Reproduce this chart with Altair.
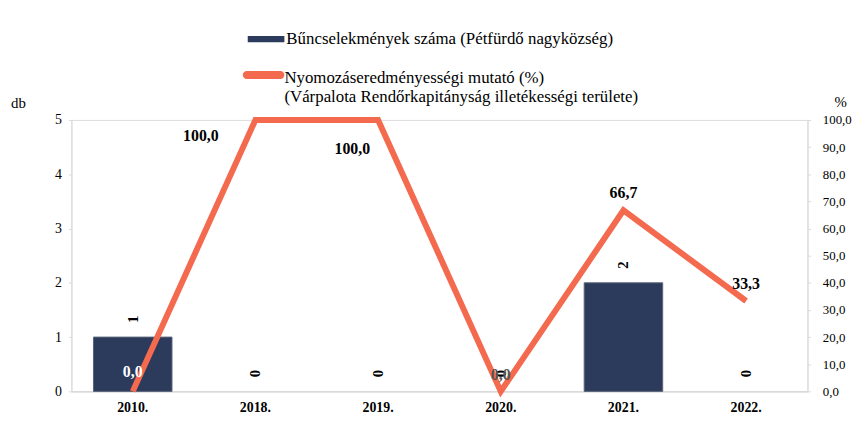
import altair as alt
import pandas as pd

years = ["2010.", "2018.", "2019.", "2020.", "2021.", "2022."]
crimes = [1, 0, 0, 0, 2, 0]
rate = [0.0, 100.0, 100.0, 0.0, 66.7, 33.3]
bar_name = "Bűncselekmények száma (Pétfürdő nagyközség)"
line_name = "Nyomozáseredményességi mutató (%)|(Várpalota Rendőrkapitányság illetékességi területe)"
left_ticks = [0, 1, 2, 3, 4, 5]
right_ticks = [0, 10, 20, 30, 40, 50, 60, 70, 80, 90, 100]

FONT = "Liberation Serif"
BAR_COLOR = "#2c3a5c"
LINE_COLOR = "#f46a4e"

df = pd.DataFrame({
    "year": years,
    "crimes": crimes,
    "rate": rate,
    "bar_series": bar_name,
    "line_series": line_name,
})

x_enc = alt.X(
    "year:N", sort=years,
    scale=alt.Scale(paddingInner=0.36, paddingOuter=0.18),
    axis=alt.Axis(title=None, labelAngle=0, labelFont=FONT, labelFontWeight="bold",
                  labelFontSize=14, labelColor="#000", domainColor="#d0d0d0",
                  ticks=False, labelPadding=9),
)

left_axis = alt.Axis(values=left_ticks, format="d", title="db", titleAngle=0,
                     titleX=-54, titleY=-18, titleAlign="center", titleBaseline="middle",
                     titleFont=FONT, titleFontSize=15, titleFontWeight="normal", titleColor="#000",
                     labelFont=FONT, labelFontSize=14, labelColor="#000",
                     domainColor="#d9d9d9", tickColor="#d9d9d9", tickSize=3,
                     labelPadding=7, grid=False)
left_scale = alt.Scale(domain=[0, 5], nice=False)

right_axis = alt.Axis(orient="right", values=right_ticks, labelOverlap=False,
                      labelExpr="replace(format(datum.value, '.1f'), '.', ',')",
                      title="%", titleAngle=0, titleX=33, titleY=-19,
                      titleAlign="center", titleBaseline="middle",
                      titleFont=FONT, titleFontSize=15, titleFontWeight="normal", titleColor="#000",
                      labelFont=FONT, labelFontSize=13, labelColor="#000",
                      domainColor="#d9d9d9", tickColor="#d9d9d9", tickSize=3,
                      labelPadding=12, grid=False)
right_scale = alt.Scale(domain=[0, 100], nice=False)

base = alt.Chart(df)

bars = base.mark_bar(stroke="#5a6478").encode(
    x=x_enc,
    y=alt.Y("crimes:Q", scale=left_scale, axis=left_axis),
    strokeWidth=alt.condition("datum.crimes > 0", alt.value(1), alt.value(0)),
    fill=alt.Fill("bar_series:N", scale=alt.Scale(domain=[bar_name], range=[BAR_COLOR]),
                  legend=alt.Legend(orient="none", legendX=178, legendY=-100, title=None,
                                    symbolType="M-1,-0.17L1,-0.17L1,0.17L-1,0.17Z",
                                    symbolSize=1369, symbolStrokeWidth=0, labelFont=FONT,
                                    labelFontSize=17, labelColor="#000", labelOffset=2,
                                    labelLimit=600)),
)

bar_text = base.mark_text(angle=270, dx=18, font=FONT, fontSize=15, fontWeight="bold",
                          color="#000").encode(
    x=alt.X("year:N", sort=years),
    y=alt.Y("crimes:Q", scale=left_scale, axis=left_axis),
    text=alt.Text("crimes:Q", format="d"),
)

left = alt.layer(bars, bar_text)

line = base.mark_line(strokeWidth=6).encode(
    x=alt.X("year:N", sort=years),
    y=alt.Y("rate:Q", scale=right_scale, axis=right_axis),
    stroke=alt.Stroke("line_series:N", scale=alt.Scale(domain=[line_name], range=[LINE_COLOR]),
                      legend=alt.Legend(orient="none", legendX=173, legendY=-71, title=None,
                                        symbolType="M-0.81,0.03L0.81,0.03A0.19,0.19 0 0 1 0.81,0.41L-0.81,0.41A0.19,0.19 0 0 1 -0.81,0.03Z",
                                        symbolSize=1764, symbolStrokeWidth=0,
                                        symbolFillColor=LINE_COLOR, labelFont=FONT,
                                        labelFontSize=17, labelColor="#000", labelOffset=0,
                                        labelBaseline="top", labelLimit=700,
                                        labelExpr="split(datum.label, '|')")),
)


def rate_labels(sel, dx, dy, color):
    return base.transform_filter(
        alt.FieldOneOfPredicate(field="year", oneOf=sel)
    ).transform_calculate(
        lab="replace(format(datum.rate, '.1f'), '.', ',')"
    ).mark_text(font=FONT, fontSize=16, fontWeight="bold", color=color, dx=dx, dy=dy).encode(
        x=alt.X("year:N", sort=years),
        y=alt.Y("rate:Q", scale=right_scale, axis=right_axis),
        text="lab:N",
    )


right = alt.layer(
    line,
    rate_labels(["2010."], 0, -20, "#ffffff"),
    rate_labels(["2018."], -55, 16, "#000"),
    rate_labels(["2019."], -26, 29, "#000"),
    rate_labels(["2020."], 0, -16, "#555555"),
    rate_labels(["2021.", "2022."], 0, -17, "#000"),
)

chart = alt.layer(left, right).resolve_scale(y="independent", fill="independent",
                                             stroke="independent").properties(
    width=743, height=274,
    autosize=alt.AutoSizeParams(type="none"),
    padding={"left": 64, "top": 111, "right": 48, "bottom": 40},
).configure_view(stroke=None).configure(background="#ffffff")

chart.save("out.html", embed_options={"renderer": "svg", "actions": False})
